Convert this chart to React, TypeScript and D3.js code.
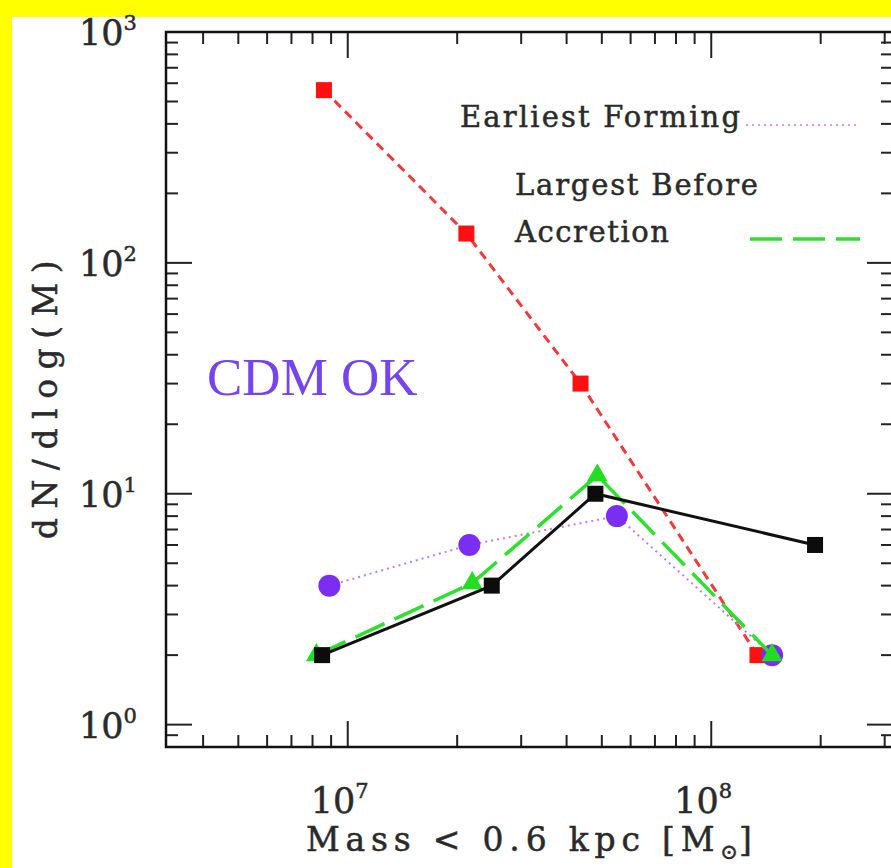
import React, { useEffect, useRef } from "react";
import * as d3 from "d3";

// halo mass (M_sun) and dN/dlog(M) per series
const redMass = [8.6e6, 2.12e7, 4.37e7, 1.34e8];
const redVal = [560, 134, 30, 2];
const purpleMass = [8.9e6, 2.16e7, 5.5e7, 1.47e8];
const purpleVal = [4, 6, 8, 2];
const greenMass = [8.2e6, 2.2e7, 4.86e7, 1.47e8];
const greenVal = [2, 4.1, 12, 2];
const blackMass = [8.5e6, 2.49e7, 4.8e7, 1.93e8];
const blackVal = [2, 4, 10, 6];

const xTickExps = [7, 8];
const yTickExps = [0, 1, 2, 3];

const FONT = "'DejaVu Serif', serif";

export default function App() {
  const ref = useRef<SVGSVGElement | null>(null);

  useEffect(() => {
    if (!ref.current) return;
    const svg = d3.select(ref.current);
    svg.selectAll("*").remove();

    const W = 891;
    const H = 868;
    const left = 166, right = 893, top = 32, bottom = 747;

    // background: yellow slide border, white figure
    svg.append("rect").attr("width", W).attr("height", H).attr("fill", "#ffff00");
    svg.append("rect").attr("x", 12).attr("y", 17).attr("width", W - 12).attr("height", H - 17).attr("fill", "#ffffff");

    const x = d3.scaleLog().domain([Math.pow(10, 6.5), Math.pow(10, 8.5)]).range([left, right]);
    const y = d3.scaleLog().domain([0.8, 1000]).range([bottom, top]);

    const g = svg.append("g");

    // minor / major ticks
    const xMinor: number[] = [];
    for (let e = 6; e <= 8; e++) for (let m = 1; m <= 9; m++) {
      const v = m * Math.pow(10, e);
      if (v >= x.domain()[0] && v <= x.domain()[1]) xMinor.push(v);
    }
    const yMinor: number[] = [];
    for (let e = -1; e <= 2; e++) for (let m = 1; m <= 9; m++) {
      const v = m * Math.pow(10, e);
      if (v >= y.domain()[0] && v <= y.domain()[1] * 1.0001) yMinor.push(v);
    }
    yMinor.push(1000);

    const tickColor = "#222";
    xMinor.forEach((v) => {
      const major = Math.abs(Math.log10(v) - Math.round(Math.log10(v))) < 1e-6;
      const len = major ? 26 : 12;
      g.append("line").attr("x1", x(v)).attr("x2", x(v)).attr("y1", bottom).attr("y2", bottom - len)
        .attr("stroke", tickColor).attr("stroke-width", 2);
      g.append("line").attr("x1", x(v)).attr("x2", x(v)).attr("y1", top).attr("y2", top + len)
        .attr("stroke", tickColor).attr("stroke-width", 2);
    });
    yMinor.forEach((v) => {
      const major = Math.abs(Math.log10(v) - Math.round(Math.log10(v))) < 1e-6;
      const len = major ? 26 : 12;
      g.append("line").attr("x1", left).attr("x2", left + len).attr("y1", y(v)).attr("y2", y(v))
        .attr("stroke", tickColor).attr("stroke-width", 2);
      g.append("line").attr("x1", right).attr("x2", right - len).attr("y1", y(v)).attr("y2", y(v))
        .attr("stroke", tickColor).attr("stroke-width", 2);
    });

    // frame
    g.append("rect").attr("x", left).attr("y", top).attr("width", right - left).attr("height", bottom - top)
      .attr("fill", "none").attr("stroke", "#111").attr("stroke-width", 2.5);

    const label = (sel: d3.Selection<SVGTextElement, unknown, null, undefined>, size: number) =>
      sel.attr("font-family", FONT).attr("font-size", size).attr("fill", "#2a2a2a")
        .attr("stroke", "#2a2a2a").attr("stroke-width", 0.5);

    // tick labels
    xTickExps.forEach((e) => {
      const t = label(g.append("text").attr("x", x(Math.pow(10, e)) - 8).attr("y", 813)
        .attr("text-anchor", "middle"), 35);
      t.append("tspan").text("10");
      t.append("tspan").attr("dy", -15).attr("font-size", 21).text(String(e));
    });
    yTickExps.forEach((e) => {
      const t = label(g.append("text").attr("x", 79).attr("y", y(Math.pow(10, e)) + 13), 35);
      t.append("tspan").text("10");
      t.append("tspan").attr("dy", -15).attr("font-size", 21).text(String(e));
    });

    // axis titles
    const xt = label(g.append("text").attr("x", 306).attr("y", 851).attr("letter-spacing", 5.8), 33);
    xt.append("tspan").text("Mass < 0.6 kpc [M");
    xt.append("tspan").attr("dy", 8).attr("font-size", 21).attr("letter-spacing", 1).text("\u2299");
    xt.append("tspan").attr("dy", -8).text("]");

    label(g.append("text").attr("transform", "translate(57,395) rotate(-90)").attr("text-anchor", "middle")
      .attr("letter-spacing", 9.5), 33).text("dN/dlog(M)");

    const line = d3.line<[number, number]>().x((d) => x(d[0])).y((d) => y(d[1]));
    const zip = (a: number[], b: number[]) => a.map((v, i) => [v, b[i]] as [number, number]);

    const red = zip(redMass, redVal);
    const purple = zip(purpleMass, purpleVal);
    const green = zip(greenMass, greenVal);
    const black = zip(blackMass, blackVal);

    // red: short dashes, squares
    g.append("path").attr("d", line(red)).attr("fill", "none").attr("stroke", "#f03a3a")
      .attr("stroke-width", 3).attr("stroke-dasharray", "9 6");
    red.forEach((d) => g.append("rect").attr("x", x(d[0]) - 8).attr("y", y(d[1]) - 8)
      .attr("width", 16).attr("height", 16).attr("fill", "#ff1010"));

    // purple: dotted, circles
    g.append("path").attr("d", line(purple)).attr("fill", "none").attr("stroke", "#c27af0")
      .attr("stroke-width", 2).attr("stroke-dasharray", "2 4");
    purple.forEach((d) => g.append("circle").attr("cx", x(d[0])).attr("cy", y(d[1])).attr("r", 11)
      .attr("fill", "#7a2ef2"));

    // green: long dashes, triangles
    g.append("path").attr("d", line(green)).attr("fill", "none").attr("stroke", "#2ee02e")
      .attr("stroke-width", 3.5).attr("stroke-dasharray", "32 11");
    const tri = d3.symbol().type(d3.symbolTriangle).size(190);
    green.forEach((d) => g.append("path").attr("d", tri()).attr("transform", `translate(${x(d[0])},${y(d[1])})`)
      .attr("fill", "#22dd22"));

    // black: solid, squares
    g.append("path").attr("d", line(black)).attr("fill", "none").attr("stroke", "#111")
      .attr("stroke-width", 3);
    black.forEach((d) => g.append("rect").attr("x", x(d[0]) - 8).attr("y", y(d[1]) - 8)
      .attr("width", 16).attr("height", 16).attr("fill", "#0c0c0c"));

    // legend
    label(g.append("text").attr("x", 460).attr("y", 127).attr("textLength", 280)
      .attr("lengthAdjust", "spacing"), 29).text("Earliest Forming");
    g.append("line").attr("x1", 746).attr("x2", 858).attr("y1", 125).attr("y2", 125)
      .attr("stroke", "#c27af0").attr("stroke-width", 1.5).attr("stroke-dasharray", "2 4");
    label(g.append("text").attr("x", 515).attr("y", 195).attr("textLength", 243)
      .attr("lengthAdjust", "spacing"), 29).text("Largest Before");
    label(g.append("text").attr("x", 515).attr("y", 242).attr("textLength", 154)
      .attr("lengthAdjust", "spacing"), 29).text("Accretion");
    g.append("line").attr("x1", 750).attr("x2", 860).attr("y1", 239).attr("y2", 239)
      .attr("stroke", "#2ee02e").attr("stroke-width", 3.5).attr("stroke-dasharray", "32 11");

    // annotation
    g.append("text").attr("x", 207).attr("y", 395).attr("font-family", "'Liberation Serif', serif")
      .attr("font-size", 53).attr("fill", "#7444ee").text("CDM OK");
  }, []);

  return (
    <svg ref={ref} width={891} height={868} style={{ display: "block", position: "absolute", left: 0, top: 0 }} />
  );
}
